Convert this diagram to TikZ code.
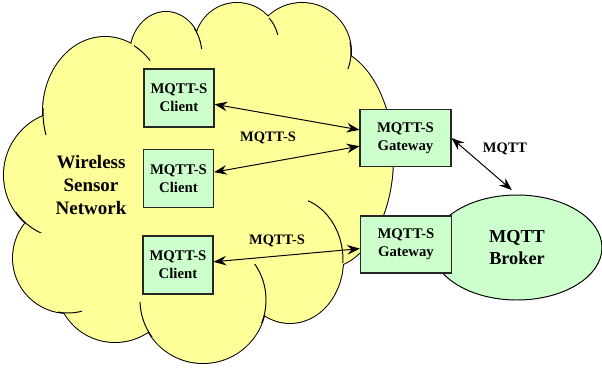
\documentclass[tikz,border=0pt]{standalone}
\usepackage{fontspec}
\setmainfont{Liberation Serif}
\usetikzlibrary{arrows.meta, positioning, shapes.geometric}

\definecolor{cloudyellow}{HTML}{FFFF99}
\definecolor{nodegreen}{HTML}{CCFFCC}

% bumps of the cloud: x/y/x radius/y radius
\newcommand{\cloudbumps}{105/112/62/75, 166/55/36/43, 237/45/42/42, 302/52/49/49,
  325/158/68/110, 290/260/53/63, 203/300/63/63, 115/285/58/57, 68/258/55/55, 68/175/64/64}

\begin{document}
\begin{tikzpicture}[
    x=0.25mm, y=-0.25mm,
    >={Stealth[length=3.2mm, width=2.4mm, inset=1.1mm]},
    cloudline/.style={draw=black, line width=0.7pt},
    box/.style={rectangle, draw=black!85, line width=0.75pt, fill=nodegreen,
        align=center, inner sep=0pt, font=\fontsize{10.5}{13}\selectfont\bfseries},
    clientbox/.style={box, minimum width=17.5mm, minimum height=14.5mm},
    gatewaybox/.style={box, minimum width=22.75mm, minimum height=14.25mm},
    broker/.style={ellipse, draw=black, line width=0.7pt, fill=nodegreen,
        minimum width=42.5mm, minimum height=26.25mm, align=center,
        font=\fontsize{13}{15.6}\selectfont\bfseries},
    proto/.style={font=\fontsize{10.3}{12}\selectfont\bfseries}
]

\useasboundingbox (0,0) rectangle (602,370);

% cloud: outline of all bumps, then fill over the inner lines
\foreach \cx/\cy/\rx/\ry in \cloudbumps
    \draw[line width=1.4pt] (\cx,\cy) ellipse [x radius=\rx, y radius=\ry];
\foreach \cx/\cy/\rx/\ry in \cloudbumps
    \fill[cloudyellow] (\cx,\cy) ellipse [x radius=\rx, y radius=\ry];
\fill[cloudyellow] (200,180) ellipse [x radius=150, y radius=130];

% folds inside the cloud
\foreach \cx/\cy/\rx/\ry/\xa/\ya/\xb/\yb in {
    105/112/62/75/36/108/52/134, 105/112/62/75/134/44/150/64,
    166/55/36/43/194/25/204/48, 237/45/42/42/262/18/280/34,
    302/52/49/49/342/42/356/68, 68/175/64/64/16/210/42/232,
    68/258/55/55/58/300/82/316, 203/300/63/63/136/302/160/336,
    203/300/63/63/250/264/270/322, 290/260/53/63/308/192/350/262}
{
    \begin{scope}
        \clip (\xa,\ya) rectangle (\xb,\yb);
        \draw[cloudline] (\cx,\cy) ellipse [x radius=\rx, y radius=\ry];
    \end{scope}
}

\node[font=\fontsize{13.5}{16.3}\selectfont\bfseries, align=center] (wsn) at (91,185)
    {Wireless\\Sensor\\Network};

\node[clientbox] (c1) at (179,98) {MQTT-S\\Client};
\node[clientbox] (c2) at (178.5,178.5) {MQTT-S\\Client};
\node[clientbox] (c3) at (178,265) {MQTT-S\\Client};

\node[broker] (mb) at (517,247.5) {MQTT\\Broker};

\node[gatewaybox] (g1) at (405.5,138) {MQTT-S\\Gateway};
\node[gatewaybox] (g2) at (406,244.5) {MQTT-S\\Gateway};

\path[<->, line width=0.7pt]
    (c1) edge (g1)
    (c2) edge (g1)
    (c3) edge (g2)
    (g1.east) edge [shorten >=1.7mm] (mb.north)
    ;

\node[proto] (l1) at (268,138) {MQTT-S};
\node[proto] (l2) at (277,241) {MQTT-S};
\node[proto] (l3) at (505,149) {MQTT};

\end{tikzpicture}
\end{document}
